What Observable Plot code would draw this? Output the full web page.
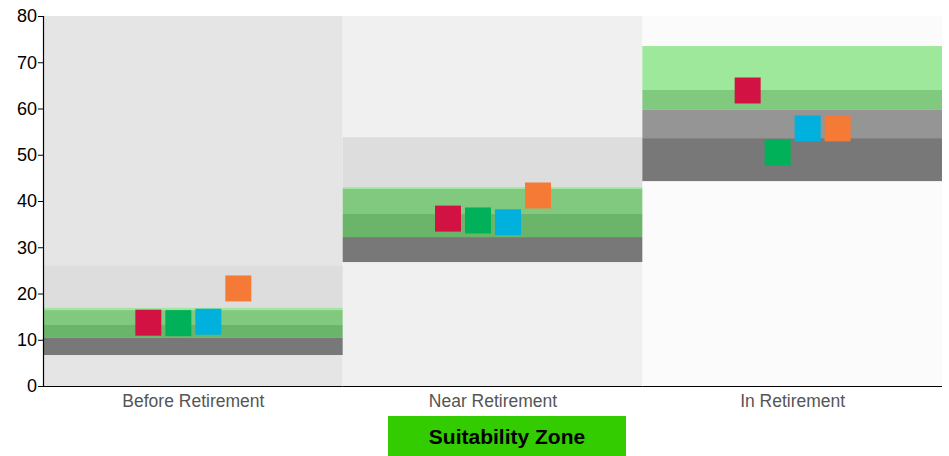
<!DOCTYPE html>
<html>
<head>
<meta charset="utf-8">
<script src="https://cdn.jsdelivr.net/npm/d3@7"></script>
<script src="https://cdn.jsdelivr.net/npm/@observablehq/plot@0.6"></script>
<style>
  html, body { margin: 0; padding: 0; background: #fff; }
  #chart svg { display: block; }
  #legend {
    margin-left: 388px; margin-top: 6px; width: 238px; height: 40px;
    background: #33cc00; color: #000;
    font: bold 21px "Liberation Sans", Arial, sans-serif;
    display: flex; align-items: center; justify-content: center;
    padding-top: 2px; box-sizing: border-box;
  }
</style>
</head>
<body>
<div id="chart"></div>
<div id="legend">Suitability Zone</div>
<script>
// ---- data ----
const stages = ["Before Retirement", "Near Retirement", "In Retirement"];
const stageTone = ["bgBefore", "bgNear", "bgIn"];
const series = ["Series 1", "Series 2", "Series 3", "Series 4"];
const yTicks = [0, 10, 20, 30, 40, 50, 60, 70, 80];

// zone bands
const bandStage = [
  "Before Retirement", "Before Retirement", "Before Retirement", "Before Retirement", "Before Retirement",
  "Near Retirement", "Near Retirement", "Near Retirement", "Near Retirement", "Near Retirement",
  "In Retirement", "In Retirement", "In Retirement", "In Retirement"
];
const bandLow  = [16.9, 16.4, 13.2, 10.4, 6.7,  43.0, 42.6, 37.2, 32.2, 26.8,  64.0, 59.7, 53.6, 44.3];
const bandHigh = [26.0, 16.9, 16.4, 13.2, 10.4, 53.8, 43.0, 42.6, 37.2, 32.2,  73.5, 64.0, 59.7, 53.6];
const bandTone = ["outer", "pale", "green", "deep", "dark",
                  "outer", "pale", "green", "deep", "dark",
                  "pale", "green", "gray", "dark"];

// square markers: one value per stage, per series
const s1Values = [13.8, 36.3, 64.0];
const s2Values = [13.7, 35.9, 50.6];
const s3Values = [14.0, 35.5, 55.8];
const s4Values = [21.2, 41.3, 55.8];

// ---- styles ----
const toneNames  = ["bgBefore", "bgNear", "bgIn", "outer", "pale", "green", "deep", "gray", "dark"];
const toneColors = ["#e5e5e5", "#f0f0f0", "#fbfbfb", "#dddddd", "#9de89a", "#80c97f", "#6ab56a", "#959595", "#787878"];
const seriesColors = ["#d21243", "#00b159", "#00b0dd", "#f47a36"];

// ---- tables ----
const bgData = stages.map((s, i) => ({stage: s, tone: stageTone[i]}));
const bands = bandStage.map((s, i) => ({stage: s, lo: bandLow[i], hi: bandHigh[i], tone: bandTone[i]}));
const allValues = [s1Values, s2Values, s3Values, s4Values];
const points = [];
stages.forEach((st, i) => series.forEach((se, j) => points.push({stage: st, series: se, value: allValues[j][i]})));

const chart = Plot.plot({
  width: 949,
  height: 410,
  marginTop: 16,
  marginLeft: 43,
  marginRight: 7,
  marginBottom: 24,
  style: {fontFamily: "'Liberation Sans', Arial, sans-serif", fontSize: "17px", background: "#fff", overflow: "visible"},
  fx: {domain: stages, padding: 0, round: false, label: null, axis: null},
  x: {type: "point", domain: series, padding: 3.495, round: false, axis: null},
  y: {domain: [0, 80], axis: null},
  color: {domain: [...series, ...toneNames], range: [...seriesColors, ...toneColors]},
  marks: [
    Plot.rect(bgData, {fx: "stage", y1: 0, y2: 80, fill: "tone"}),
    Plot.rect(bands, {fx: "stage", y1: "lo", y2: "hi", fill: "tone"}),
    Plot.dot(points, {fx: "stage", x: "series", y: "value", symbol: "square", r: 14.67, fill: "series"}),
    Plot.ruleY([0], {stroke: "#000", strokeWidth: 1.2}),
    Plot.frame({anchor: "left", facetAnchor: "left", stroke: "#000", strokeWidth: 1.2}),
    Plot.axisY({ticks: yTicks, tickSize: 5, tickPadding: 1.5, fontSize: 18, color: "#000", label: null}),
    Plot.axisFx({anchor: "bottom", tickSize: 0, tickPadding: 8.5, fontSize: 17.5, color: "#555", label: null})
  ]
});
document.getElementById("chart").appendChild(chart);
</script>
</body>
</html>
